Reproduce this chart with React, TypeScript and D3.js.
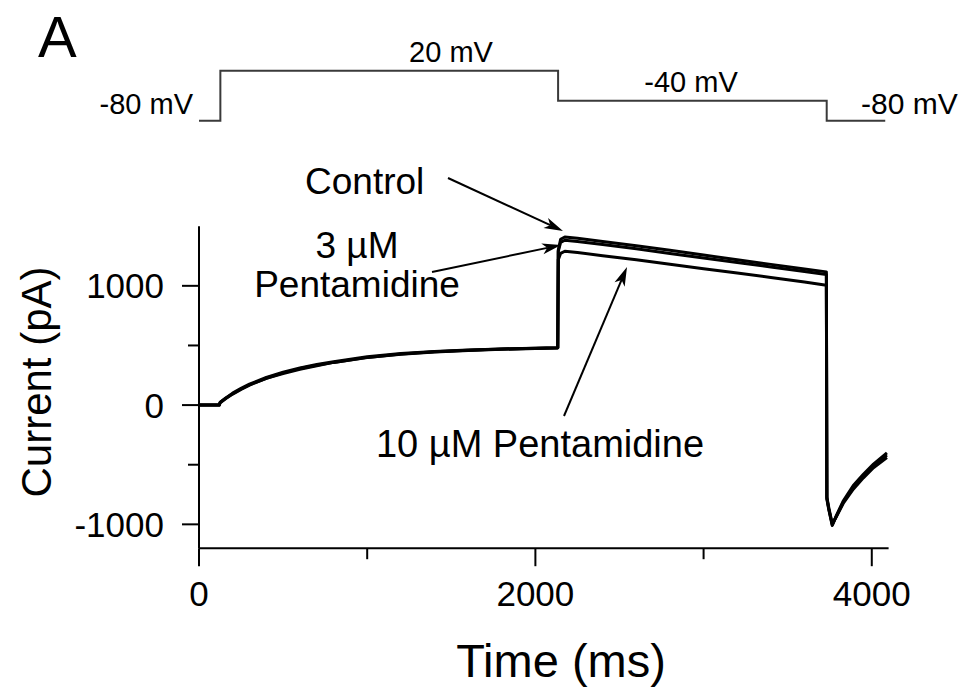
import React from "react";
import * as d3 from "d3";

// ---- data ----
const TIME = [
  0, 120, 126, 160, 200, 250, 300, 400, 500, 600,
  700, 800, 1000, 1200, 1400, 1600, 1800, 2000, 2133, 2136,
  2150, 2175, 2250, 2400, 2600, 2800, 3000, 3200, 3400, 3600,
  3730, 3733, 3745, 3765, 3790, 3830, 3890, 3950, 4010, 4090,
];
const CONTROL = [
  0, 0, 25, 60, 95, 135, 170, 225, 265, 300,
  330, 358, 400, 428, 447, 460, 470, 476, 480, 1300,
  1390, 1410, 1398, 1372, 1336, 1298, 1258, 1218, 1180, 1142,
  1117, -790, -880, -1010, -925, -805, -675, -580, -495, -400,
];
const PENT_3 = [
  0, 0, 22, 60, 100, 140, 176, 232, 275, 312,
  340, 364, 405, 432, 450, 462, 471, 477, 481, 1290,
  1365, 1382, 1372, 1346, 1310, 1272, 1233, 1195, 1158, 1120,
  1095, -780, -875, -1005, -930, -815, -690, -595, -510, -420,
];
const PENT_10 = [
  0, 0, 20, 55, 92, 132, 168, 225, 270, 306,
  334, 358, 398, 426, 445, 458, 468, 474, 478, 1220,
  1272, 1290, 1280, 1253, 1218, 1181, 1144, 1107, 1070, 1032,
  1005, -770, -865, -995, -935, -825, -705, -610, -525, -440,
];
const SERIES = [CONTROL, PENT_3, PENT_10];

const PROTOCOL_TIME = [0, 127, 127, 2135, 2135, 3732, 3732, 4080];
const PROTOCOL_MV = [-80, -80, 20, 20, -40, -40, -80, -80];

const Y_MAJOR = [-1000, 0, 1000];
const Y_MINOR = [-500, 500];
const X_MAJOR = [0, 2000, 4000];
const X_MINOR = [1000, 3000];

const FONT = "'Liberation Sans', Arial, Helvetica, sans-serif";

function Arrow({ x1, y1, x2, y2 }: { x1: number; y1: number; x2: number; y2: number }) {
  const a = Math.atan2(y2 - y1, x2 - x1);
  const L = 19, hw = 5.5, notch = 14;
  const ca = Math.cos(a), sa = Math.sin(a);
  const bx = x2 - L * ca, by = y2 - L * sa;
  const nx = x2 - notch * ca, ny = y2 - notch * sa;
  const p1 = [bx - hw * sa, by + hw * ca];
  const p2 = [bx + hw * sa, by - hw * ca];
  return (
    <g>
      <line x1={x1} y1={y1} x2={nx} y2={ny} stroke="#000" strokeWidth={2} />
      <polygon
        points={`${x2},${y2} ${p1[0]},${p1[1]} ${nx},${ny} ${p2[0]},${p2[1]}`}
        fill="#000"
      />
    </g>
  );
}

export default function App() {
  const W = 973, H = 693;
  const x = d3.scaleLinear().domain([0, 4100]).range([199, 888.6]);
  const y = d3.scaleLinear().domain([-1200, 1500]).range([548.2, 226.2]);
  const v = d3.scaleLinear().domain([-80, 20]).range([120.7, 70.7]);

  const traceLine = d3
    .line<number>()
    .x((_, i) => x(TIME[i]))
    .y((d) => y(d));

  const protoLine = d3
    .line<number>()
    .x((_, i) => x(PROTOCOL_TIME[i]))
    .y((d) => v(d));

  const x0 = x(0), xEnd = x(4100);
  const yBase = y(-1200), yTop = y(1500);

  return (
    <svg
      width={W}
      height={H}
      viewBox={`0 0 ${W} ${H}`}
      style={{ position: "absolute", left: 0, top: 0, background: "#fff" }}
      fontFamily={FONT}
    >
      <rect x={0} y={0} width={W} height={H} fill="#fff" />

      {/* panel letter */}
      <text x={38} y={57} fontSize={58}>A</text>

      {/* voltage protocol */}
      <path d={protoLine(PROTOCOL_MV) || ""} fill="none" stroke="#3a3a3a" strokeWidth={2} />
      <text x={193} y={114} fontSize={29} textAnchor="end">-80 mV</text>
      <text x={451} y={62} fontSize={29} textAnchor="middle">20 mV</text>
      <text x={691} y={92} fontSize={29} textAnchor="middle">-40 mV</text>
      <text x={861} y={114} fontSize={30} textAnchor="start">-80 mV</text>

      {/* axes */}
      <line x1={x0} y1={yTop} x2={x0} y2={yBase} stroke="#000" strokeWidth={2} />
      <line x1={x0} y1={yBase} x2={xEnd} y2={yBase} stroke="#000" strokeWidth={2} />
      {Y_MAJOR.map((t) => (
        <g key={`ym${t}`}>
          <line x1={x0 - 17} x2={x0} y1={y(t)} y2={y(t)} stroke="#000" strokeWidth={2} />
          <text x={164} y={y(t)} dy="0.36em" fontSize={35} textAnchor="end">{t}</text>
        </g>
      ))}
      {Y_MINOR.map((t) => (
        <line key={`yn${t}`} x1={x0 - 11} x2={x0} y1={y(t)} y2={y(t)} stroke="#000" strokeWidth={2} />
      ))}
      {X_MAJOR.map((t) => (
        <g key={`xm${t}`}>
          <line x1={x(t)} x2={x(t)} y1={yBase} y2={yBase + 18} stroke="#000" strokeWidth={2} />
          <text x={x(t)} y={606} fontSize={35} textAnchor="middle">{t}</text>
        </g>
      ))}
      {X_MINOR.map((t) => (
        <line key={`xn${t}`} x1={x(t)} x2={x(t)} y1={yBase} y2={yBase + 11} stroke="#000" strokeWidth={2} />
      ))}

      {/* axis titles */}
      <text
        transform={`translate(51, 382) rotate(-90)`}
        fontSize={42}
        textAnchor="middle"
      >
        Current (pA)
      </text>
      <text x={561} y={677} fontSize={47} textAnchor="middle">Time (ms)</text>

      {/* current traces */}
      {SERIES.map((s, i) => (
        <path
          key={i}
          d={traceLine(s) || ""}
          fill="none"
          stroke="#000"
          strokeWidth={3}
          strokeLinejoin="round"
        />
      ))}

      {/* annotations */}
      <text x={305} y={194} fontSize={37}>Control</text>
      <Arrow x1={448} y1={178} x2={563} y2={231} />
      <text x={357} y={258} fontSize={37} textAnchor="middle">3 µM</text>
      <text x={357} y={297} fontSize={37} textAnchor="middle">Pentamidine</text>
      <Arrow x1={432} y1={272} x2={561} y2={245} />
      <text x={540} y={457} fontSize={38} textAnchor="middle">10 µM Pentamidine</text>
      <Arrow x1={564} y1={416} x2={627} y2={267} />
    </svg>
  );
}
